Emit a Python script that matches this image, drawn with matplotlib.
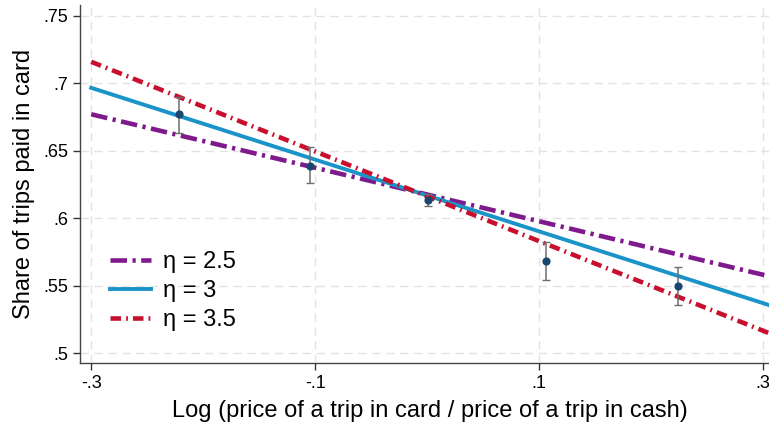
import matplotlib
matplotlib.use("Agg")
import matplotlib.pyplot as plt

plt.rcParams['font.family'] = ['Liberation Sans', 'DejaVu Sans']

# Binned means with 95% confidence bands
bin_x = [-0.222, -0.1045, 0.001, 0.106, 0.224]
bin_mean = [0.677, 0.6387, 0.6135, 0.5682, 0.5497]
bin_lo = [0.663, 0.626, 0.609, 0.554, 0.5356]
bin_hi = [0.690, 0.6528, 0.618, 0.582, 0.5638]

# Predicted shares under each elasticity, at the two ends of the range
line_x = [-0.30, 0.305]
eta_labels = ["η = 2.5", "η = 3", "η = 3.5"]
eta_25 = [0.677, 0.557]
eta_30 = [0.6966, 0.5356]
eta_35 = [0.7159, 0.5148]

x_ticks = [-0.3, -0.1, 0.1, 0.3]
x_ticklabels = ["-.3", "-.1", ".1", ".3"]
y_ticks = [0.5, 0.55, 0.6, 0.65, 0.7, 0.75]
y_ticklabels = [".5", ".55", ".6", ".65", ".7", ".75"]

fig = plt.figure(figsize=(7.69, 4.22), dpi=100)
ax = fig.add_axes([80 / 769, 1 - 363 / 422, 700 / 769, 358 / 422])

for t in x_ticks:
    ax.axvline(t, color="#e3e3e3", lw=1.0, ls=(0, (6, 4)), zorder=0)
for t in y_ticks:
    ax.axhline(t, color="#e3e3e3", lw=1.0, ls=(0, (6, 4)), zorder=0)

ax.plot(line_x, eta_25, color="#7f1a8c", lw=3.3,
        ls=(0, (3.6, 1.2, 0.7, 1.2)), label=eta_labels[0], zorder=3)
ax.plot(line_x, eta_30, color="#1a93c8", lw=2.8,
        ls="-", label=eta_labels[1], zorder=3)
ax.plot(line_x, eta_35, color="#c8102e", lw=3.3,
        ls=(0, (2.3, 1.1, 0.4, 1.1)), label=eta_labels[2], zorder=3)

err_lo = [m - lo for m, lo in zip(bin_mean, bin_lo)]
err_hi = [hi - m for m, hi in zip(bin_mean, bin_hi)]
ax.errorbar(bin_x, bin_mean, yerr=[err_lo, err_hi], fmt="none",
            ecolor="#6e6e6e", elinewidth=1.1, capsize=3, capthick=1.0, zorder=4)
ax.scatter(bin_x, bin_mean, s=24, color="#1a476f", zorder=5)

ax.set_xlim(-0.31, 0.315)
ax.set_ylim(0.4926, 0.758)
ax.set_xticks(x_ticks)
ax.set_xticklabels(x_ticklabels)
ax.set_yticks(y_ticks)
ax.set_yticklabels(y_ticklabels)
ax.tick_params(axis="both", labelsize=13, direction="out", length=5,
               width=1.0, colors="#333333", labelcolor="black")

for side in ("top", "right"):
    ax.spines[side].set_visible(False)
for side in ("left", "bottom"):
    ax.spines[side].set_color("#444444")
    ax.spines[side].set_linewidth(1.0)

ax.set_xlabel("Log (price of a trip in card / price of a trip in cash)",
              fontsize=17, labelpad=6)
ax.set_ylabel("Share of trips paid in card", fontsize=17, labelpad=6)

ax.legend(loc="lower left", bbox_to_anchor=(0.012, 0.03), frameon=False,
          fontsize=17, handlelength=1.75, handletextpad=0.5,
          labelspacing=0.3)

fig.savefig("out.png", dpi=100)
